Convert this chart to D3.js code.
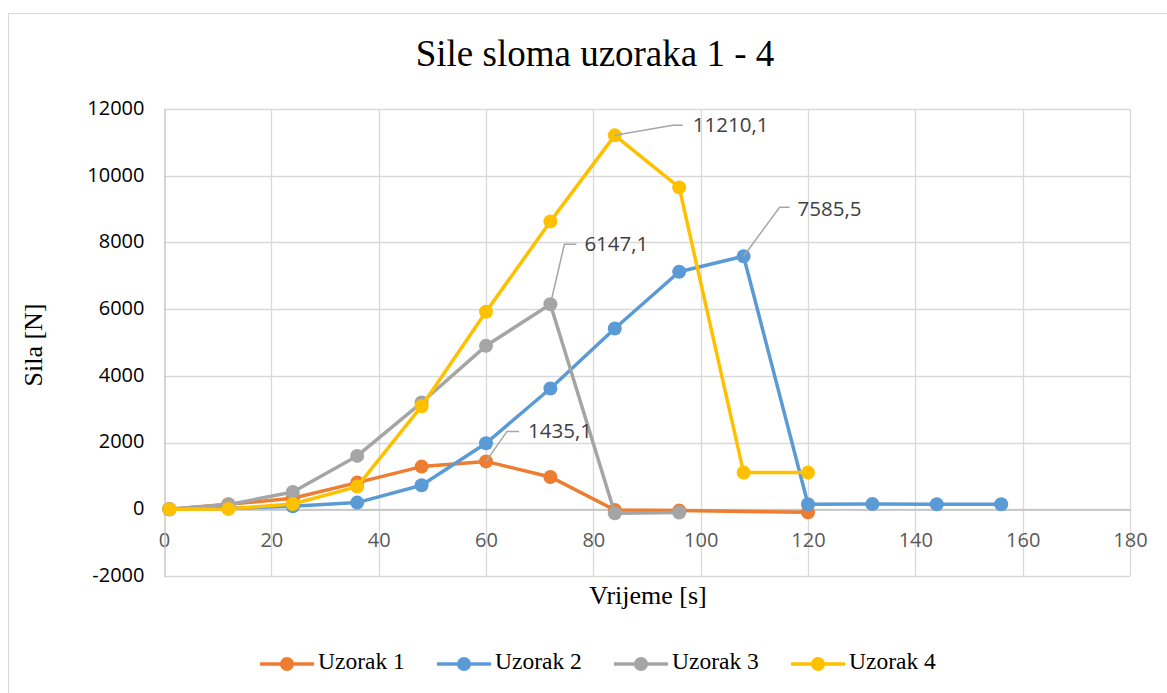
<!DOCTYPE html>
<html>
<head>
<meta charset="utf-8">
<script src="https://cdn.jsdelivr.net/npm/d3@7"></script>
<style>
  html, body { margin: 0; padding: 0; background: #fff; }
  svg { display: block; }
</style>
</head>
<body>
<svg id="chart" width="1167" height="693"></svg>
<script>
// Time stamps (s) and breaking force (N) per specimen
const time1 = [1, 12, 24, 36, 48, 60, 72, 84, 96, 120];
const sila1 = [0, 150, 330, 800, 1280, 1435.1, 970, -20, -40, -90];

const time2 = [1, 12, 24, 36, 48, 60, 72, 84, 96, 108, 120, 132, 144, 156];
const sila2 = [0, 30, 90, 200, 720, 1980, 3620, 5420, 7120, 7585.5, 150, 160, 150, 150];

const time3 = [1, 12, 24, 36, 48, 60, 72, 84, 96];
const sila3 = [0, 140, 520, 1600, 3200, 4900, 6147.1, -120, -100];

const time4 = [1, 12, 24, 36, 48, 60, 72, 84, 96, 108, 120];
const sila4 = [0, 10, 160, 680, 3090, 5920, 8630, 11210.1, 9650, 1100, 1100];

const seriesNames = ["Uzorak 1", "Uzorak 2", "Uzorak 3", "Uzorak 4"];
const seriesColors = ["#ED7D31", "#5B9BD5", "#A5A5A5", "#FFC000"];

const xTicks = [0, 20, 40, 60, 80, 100, 120, 140, 160, 180];
const yTicks = [-2000, 0, 2000, 4000, 6000, 8000, 10000, 12000];

// Labelled peaks: [series index, point index]
const peakLabels = [[0, 5], [2, 6], [3, 7], [1, 9]];

const titleText = "Sile sloma uzoraka 1 - 4";
const xTitle = "Vrijeme [s]";
const yTitle = "Sila [N]";

const allSeries = [
  { name: seriesNames[0], color: seriesColors[0], pts: time1.map((t, i) => ({ t, v: sila1[i] })) },
  { name: seriesNames[1], color: seriesColors[1], pts: time2.map((t, i) => ({ t, v: sila2[i] })) },
  { name: seriesNames[2], color: seriesColors[2], pts: time3.map((t, i) => ({ t, v: sila3[i] })) },
  { name: seriesNames[3], color: seriesColors[3], pts: time4.map((t, i) => ({ t, v: sila4[i] })) }
];

// Leader line geometry for each peak label (offsets from the point, px)
const leaderGeom = [
  { bend: [21, -30], end: [33, -30], text: [42, -29] },
  { bend: [14, -60], end: [26, -60], text: [34, -59] },
  { bend: [58, -10], end: [68, -10], text: [78, -9] },
  { bend: [36, -49], end: [46, -49], text: [54, -46] }
];

const svg = d3.select("#chart");
const W = 1167, H = 693;
const plot = { left: 164, right: 1130, top: 109, bottom: 576 };
const numFont = "'Open Sans', sans-serif";
const serifFont = "'Liberation Serif', 'Times New Roman', serif";

// Outer chart frame
svg.append("rect")
  .attr("x", 8.5).attr("y", 13.5)
  .attr("width", W + 20).attr("height", H + 20)
  .attr("fill", "#fff").attr("stroke", "#d9d9d9").attr("stroke-width", 1);

const x = d3.scaleLinear().domain([0, 180]).range([plot.left, plot.right]);
const y = d3.scaleLinear().domain([-2000, 12000]).range([plot.bottom, plot.top]);

// Gridlines
const grid = svg.append("g");
grid.selectAll("line.h").data(yTicks).join("line")
  .attr("x1", plot.left).attr("x2", plot.right)
  .attr("y1", d => Math.round(y(d)) + 0.5).attr("y2", d => Math.round(y(d)) + 0.5)
  .attr("stroke", "#d9d9d9").attr("stroke-width", 1.3);
grid.selectAll("line.v").data(xTicks.slice(1)).join("line")
  .attr("y1", plot.top).attr("y2", plot.bottom)
  .attr("x1", d => Math.round(x(d)) + 0.5).attr("x2", d => Math.round(x(d)) + 0.5)
  .attr("stroke", "#d9d9d9").attr("stroke-width", 1.3);

// Axes (zero line and y axis), plain integer labels
const plain = d => String(d);
const xAxis = d3.axisBottom(x).tickValues(xTicks).tickFormat(plain).tickSize(0).tickPadding(0);
const yAxis = d3.axisLeft(y).tickValues(yTicks).tickFormat(plain).tickSize(0).tickPadding(0);

const gx = svg.append("g").attr("transform", `translate(0,${Math.round(y(0)) + 0.5})`).call(xAxis);
gx.select(".domain").attr("stroke", "#bfbfbf").attr("stroke-width", 1.3);
gx.selectAll("text")
  .attr("dy", null).attr("y", 32)
  .attr("dominant-baseline", "middle")
  .attr("font-family", numFont).attr("font-size", 20)
  .attr("fill", "#595959");

const gy = svg.append("g").attr("transform", `translate(${plot.left + 0.5},0)`).call(yAxis);
gy.select(".domain").attr("stroke", "#bfbfbf").attr("stroke-width", 1.3);
gy.selectAll("text")
  .attr("dy", null).attr("x", -20)
  .attr("dominant-baseline", "middle")
  .attr("font-family", numFont).attr("font-size", 20)
  .attr("fill", "#000");

// Series lines and markers
const line = d3.line().x(d => x(d.t)).y(d => y(d.v));
allSeries.forEach(s => {
  const g = svg.append("g");
  g.append("path").datum(s.pts)
    .attr("d", line).attr("fill", "none")
    .attr("stroke", s.color).attr("stroke-width", 3.5)
    .attr("stroke-linejoin", "round");
  g.selectAll("circle").data(s.pts).join("circle")
    .attr("cx", d => x(d.t)).attr("cy", d => y(d.v))
    .attr("r", 7).attr("fill", s.color);
});

// Peak value labels with leader lines
const fmt = v => String(v).replace(".", ",");
peakLabels.forEach(([si, pi], k) => {
  const p = allSeries[si].pts[pi];
  const px = x(p.t), py = y(p.v);
  const g = leaderGeom[k];
  svg.append("polyline")
    .attr("points", [[px, py], [px + g.bend[0], py + g.bend[1]], [px + g.end[0], py + g.end[1]]].map(a => a.join(",")).join(" "))
    .attr("fill", "none").attr("stroke", "#a6a6a6").attr("stroke-width", 1.5);
  svg.append("text")
    .attr("x", px + g.text[0]).attr("y", py + g.text[1])
    .attr("dominant-baseline", "middle")
    .attr("font-family", numFont).attr("font-size", 20.5)
    .attr("fill", "#404040")
    .text(fmt(p.v));
});

// Titles
svg.append("text")
  .attr("x", 595).attr("y", 58)
  .attr("text-anchor", "middle").attr("dominant-baseline", "middle")
  .attr("font-family", serifFont).attr("font-size", 37)
  .attr("fill", "#000").text(titleText);

svg.append("text")
  .attr("x", 648).attr("y", 598)
  .attr("text-anchor", "middle").attr("dominant-baseline", "middle")
  .attr("font-family", serifFont).attr("font-size", 26)
  .attr("fill", "#000").text(xTitle);

svg.append("text")
  .attr("transform", "translate(36,345) rotate(-90)")
  .attr("text-anchor", "middle").attr("dominant-baseline", "middle")
  .attr("font-family", serifFont).attr("font-size", 26)
  .attr("fill", "#000").text(yTitle);

// Legend
const legend = svg.append("g").attr("transform", "translate(260,664)");
allSeries.forEach((s, i) => {
  const g = legend.append("g").attr("transform", `translate(${i * 177},0)`);
  g.append("line").attr("x1", 0).attr("x2", 54).attr("y1", 0).attr("y2", 0)
    .attr("stroke", s.color).attr("stroke-width", 3.5);
  g.append("circle").attr("cx", 27).attr("cy", 0).attr("r", 7).attr("fill", s.color);
  g.append("text").attr("x", 58).attr("y", 0)
    .attr("dominant-baseline", "middle")
    .attr("font-family", serifFont).attr("font-size", 23.5)
    .attr("fill", "#000").text(s.name);
});
</script>
</body>
</html>
